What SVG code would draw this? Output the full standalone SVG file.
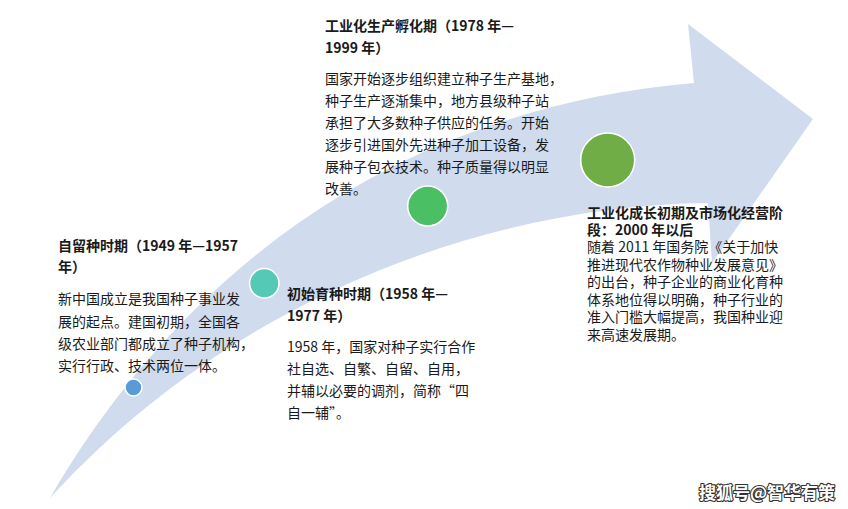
<svg xmlns="http://www.w3.org/2000/svg" width="848" height="509" viewBox="0 0 848 509">
<style>
.t{font-family:"Noto Sans CJK SC","Liberation Sans",sans-serif;font-size:14px;fill:#1a1a1a;font-weight:700}
.b{font-family:"Noto Sans CJK SC","Liberation Sans",sans-serif;font-size:14px;fill:#1a1a1a}
.dot{stroke:#ffffff;stroke-width:1.5}
.wm{font-family:"Noto Sans CJK SC",sans-serif;font-size:17px;font-weight:700;fill:#ffffff;stroke:#333333;stroke-width:2.2;paint-order:stroke;stroke-linejoin:round}
</style>
<rect width="848" height="509" fill="#ffffff"/>
<g id="connectors">
<path id="arrow" d="M 50 498 C 170 290 380 110 694 83 L 688 24 L 813 119 L 712 263 L 708 203 C 500 205 240 290 50 498 Z" fill="#D0DCEE"/>
</g>
<g id="node1">
<circle class="dot" cx="133.5" cy="387.5" r="8.5" fill="#5B9BD5"/>
<text class="t" x="58" y="251">自留种时期（1949 年—1957</text>
<text class="t" x="58" y="272">年）</text>
<text class="b" x="58" y="304">新中国成立是我国种子事业发</text>
<text class="b" x="58" y="327">展的起点。建国初期，全国各</text>
<text class="b" x="58" y="349">级农业部门都成立了种子机构，</text>
<text class="b" x="58" y="371">实行行政、技术两位一体。</text>
</g>
<g id="node2">
<circle class="dot" cx="264.3" cy="283.3" r="14.7" fill="#55C9B6"/>
<text class="t" x="287" y="299">初始育种时期（1958 年—</text>
<text class="t" x="287" y="321">1977 年）</text>
<text class="b" x="287" y="352">1958 年，国家对种子实行合作</text>
<text class="b" x="287" y="374">社自选、自繁、自留、自用，</text>
<text class="b" x="287" y="396">并辅以必要的调剂，简称“四</text>
<text class="b" x="287" y="418">自一辅”。</text>
</g>
<g id="node3">
<circle class="dot" cx="427.7" cy="206" r="20" fill="#4BBF63"/>
<text class="t" x="325" y="31">工业化生产孵化期（1978 年—</text>
<text class="t" x="325" y="53">1999 年）</text>
<text class="b" x="325" y="84">国家开始逐步组织建立种子生产基地，</text>
<text class="b" x="325" y="106">种子生产逐渐集中，地方县级种子站</text>
<text class="b" x="325" y="128">承担了大多数种子供应的任务。开始</text>
<text class="b" x="325" y="150">逐步引进国外先进种子加工设备，发</text>
<text class="b" x="325" y="172">展种子包衣技术。种子质量得以明显</text>
<text class="b" x="325" y="194">改善。</text>
</g>
<g id="node4">
<circle class="dot" cx="607.7" cy="160" r="27" fill="#70AD47"/>
<text class="t" x="587" y="218">工业化成长初期及市场化经营阶</text>
<text class="t" x="587" y="235">段：2000 年以后</text>
<text class="b" x="587" y="252">随着 2011 年国务院《关于加快</text>
<text class="b" x="587" y="270">推进现代农作物种业发展意见》</text>
<text class="b" x="587" y="287">的出台，种子企业的商业化育种</text>
<text class="b" x="587" y="305">体系地位得以明确，种子行业的</text>
<text class="b" x="587" y="322">准入门槛大幅提高，我国种业迎</text>
<text class="b" x="587" y="340">来高速发展期。</text>
</g>
<text class="wm" x="699" y="499">搜狐号@智华有策</text>
</svg>
